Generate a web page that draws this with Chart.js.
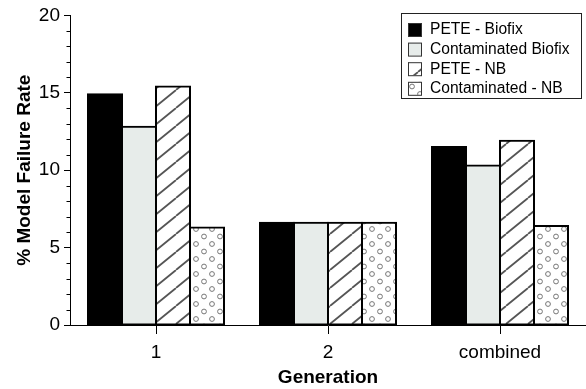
<!DOCTYPE html>
<html>
<head>
<meta charset="utf-8">
<script src="https://cdn.jsdelivr.net/npm/chart.js@4"></script>
<style>
  html, body { margin: 0; padding: 0; background: #fff; }
</style>
</head>
<body>
<canvas id="chart" width="586" height="389"></canvas>
<script>
// data
var categories = ["1", "2", "combined"];
var seriesNames = ["PETE - Biofix", "Contaminated Biofix", "PETE - NB", "Contaminated - NB"];
var peteBiofix = [14.9, 6.6, 11.5];
var contBiofix = [12.8, 6.6, 10.3];
var peteNB = [15.4, 6.6, 11.9];
var contNB = [6.3, 6.6, 6.4];
var yTicks = [0, 5, 10, 15, 20];

var FONT = "'Liberation Sans', Arial, sans-serif";

// fill patterns
function hatchPattern() {
  var w = 22, h = 18;
  var c = document.createElement("canvas");
  c.width = w; c.height = h;
  var g = c.getContext("2d");
  g.fillStyle = "#fff";
  g.fillRect(0, 0, w, h);
  g.strokeStyle = "#555";
  g.lineWidth = 1.8;
  g.beginPath();
  // main diagonal plus the bits of the neighbouring tiles' lines
  for (var k = -1; k <= 1; k++) {
    g.moveTo(0 + k * w, h);
    g.lineTo(w + k * w, 0);
  }
  g.stroke();
  return g.createPattern(c, "repeat");
}

function dotPattern() {
  var c = document.createElement("canvas");
  c.width = 16; c.height = 15;
  var g = c.getContext("2d");
  g.fillStyle = "#fff";
  g.fillRect(0, 0, 16, 15);
  g.strokeStyle = "#777";
  g.lineWidth = 1;
  g.beginPath();
  g.arc(4, 4, 2.4, 0, Math.PI * 2);
  g.moveTo(14.4, 11.5);
  g.arc(12, 11.5, 2.4, 0, Math.PI * 2);
  g.stroke();
  return g.createPattern(c, "repeat");
}

var fills = ["#000000", "#e7ecea", hatchPattern(), dotPattern()];
var seriesData = [peteBiofix, contBiofix, peteNB, contNB];

var datasets = seriesData.map(function (vals, i) {
  return {
    label: seriesNames[i],
    data: vals,
    backgroundColor: fills[i],
    borderColor: "#000",
    borderWidth: 2,
    borderSkipped: false,
    inflateAmount: 1,
    barPercentage: 1,
    categoryPercentage: 136 / 172  // keeps bar edges on whole pixels
  };
});

// minor ticks on y axis + legend box inside the plot
var extras = {
  id: "extras",
  afterDraw: function (chart) {
    var ctx = chart.ctx;
    var y = chart.scales.y;
    ctx.save();
    ctx.strokeStyle = "#000";
    ctx.lineWidth = 1;
    for (var v = 0; v <= 20; v++) {
      if (v % 5 === 0) continue;
      var py = Math.round(y.getPixelForValue(v)) + 0.5;
      ctx.beginPath();
      ctx.moveTo(y.right - 3.5, py);
      ctx.lineTo(y.right, py);
      ctx.stroke();
    }

    // legend
    var bx = 401.5, by = 13.5, bw = 180, bh = 85;
    ctx.fillStyle = "#fff";
    ctx.fillRect(bx, by, bw, bh);
    ctx.strokeStyle = "#222";
    ctx.strokeRect(bx, by, bw, bh);
    ctx.font = "15.6px " + FONT;
    ctx.textBaseline = "middle";
    chart.data.datasets.forEach(function (ds, i) {
      var top = 23 + i * 19.6;
      ctx.fillStyle = ds.backgroundColor;
      ctx.fillRect(408, top, 13, 13);
      ctx.strokeStyle = "#333";
      ctx.strokeRect(408.5, top + 0.5, 13, 13);
      ctx.fillStyle = "#000";
      ctx.fillText(ds.label, 430, top + 7);
    });
    ctx.restore();
  }
};

new Chart(document.getElementById("chart"), {
  type: "bar",
  data: { labels: categories, datasets: datasets },
  options: {
    responsive: false,
    animation: false,
    devicePixelRatio: 1,
    layout: { padding: { top: 15, right: 0, bottom: 0, left: 0 } },
    plugins: { legend: { display: false }, tooltip: { enabled: false } },
    scales: {
      x: {
        afterFit: function (s) { s.height = 64; },
        grid: { display: true, drawOnChartArea: false, offset: false, tickLength: 9, color: "#000" },
        border: { color: "#000", width: 1 },
        ticks: {
          color: "#000",
          padding: 7,
          font: { family: FONT, size: 19 }
        },
        title: {
          display: true,
          text: "Generation",
          color: "#000",
          padding: { top: 0, bottom: 0 },
          font: { family: FONT, size: 19, weight: "bold" }
        }
      },
      y: {
        min: 0,
        max: 20,
        afterFit: function (s) { s.width = 70; },
        afterBuildTicks: function (s) {
          s.ticks = yTicks.map(function (v) { return { value: v }; });
        },
        grid: { display: true, drawOnChartArea: false, tickLength: 6, color: "#000" },
        border: { color: "#000", width: 1 },
        ticks: {
          color: "#000",
          padding: 4,
          font: { family: FONT, size: 19 }
        },
        title: {
          display: true,
          text: "% Model Failure Rate",
          color: "#000",
          padding: { top: 13, bottom: 0 },
          font: { family: FONT, size: 19, weight: "bold" }
        }
      }
    }
  },
  plugins: [extras]
});
</script>
</body>
</html>
